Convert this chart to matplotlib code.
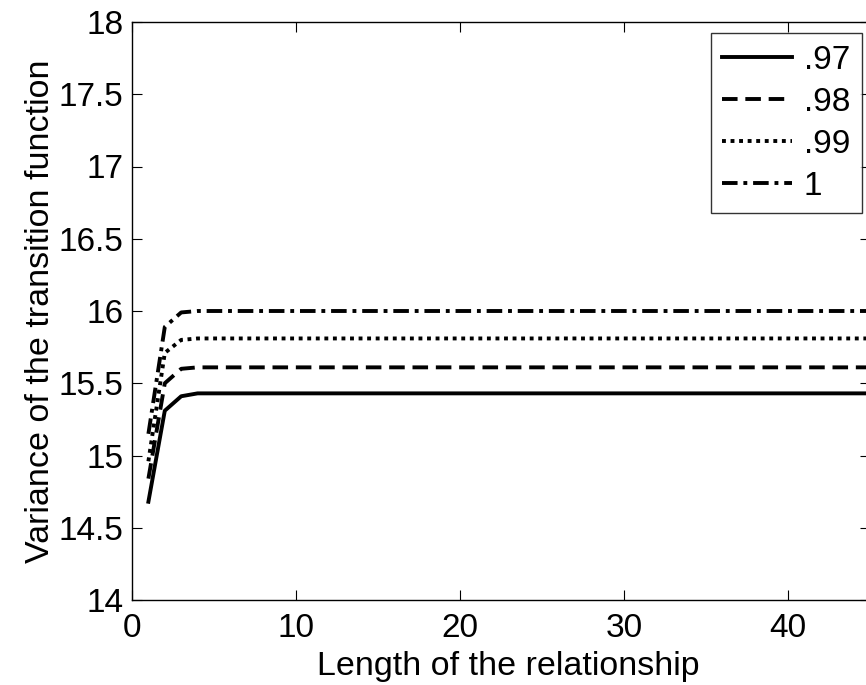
import matplotlib
matplotlib.use("Agg")
import matplotlib.pyplot as plt

plt.rcParams['font.family'] = ['Liberation Sans', 'DejaVu Sans']

x = [1, 2, 3, 4, 5, 45]
s97 = [14.68, 15.31, 15.41, 15.43, 15.43, 15.43]
s98 = [14.84, 15.50, 15.60, 15.61, 15.61, 15.61]
s99 = [14.96, 15.71, 15.80, 15.81, 15.81, 15.81]
s100 = [15.15, 15.89, 15.99, 16.00, 16.00, 16.00]
labels = ['.97', '.98', '.99', '1']

AX_L, AX_R, AX_T, AX_B = 132, 870, 22, 600
fig = plt.figure(figsize=(8.66, 6.85), dpi=100)
ax = fig.add_axes([AX_L/866, 1-AX_B/685, (AX_R-AX_L)/866, (AX_B-AX_T)/685])

lw = 2.8
ax.plot(x, s97, color='black', lw=lw, ls='-', label=labels[0])
ax.plot(x, s98, color='black', lw=lw, ls=(0, (4, 2)), label=labels[1])
ax.plot(x, s99, color='black', lw=lw, ls=(0, (1, 1.2)), label=labels[2])
ax.plot(x, s100, color='black', lw=lw, ls=(0, (4, 1.5, 1, 1.5)), label=labels[3])

ax.set_xlim(0, 45)
ax.set_ylim(14, 18)
ax.set_xticks([0, 10, 20, 30, 40])
ax.set_yticks([14, 14.5, 15, 15.5, 16, 16.5, 17, 17.5, 18])
ax.set_yticklabels(['14', '14.5', '15', '15.5', '16', '16.5', '17', '17.5', '18'])
ax.tick_params(direction='in', top=True, right=True, length=7, width=0.8,
               labelsize=24, pad=6)
ax.tick_params(axis='x', pad=9.5)
for sp in ax.spines.values():
    sp.set_linewidth(1.0)

ax.set_xlabel('Length of the relationship', fontsize=24.5)
ax.xaxis.set_label_coords((508-AX_L)/(AX_R-AX_L), -0.088)
ax.xaxis.label.set_va('top')
ax.set_ylabel('Variance of the transition function', fontsize=24.5, labelpad=2)

leg = ax.legend(loc='upper right',
                bbox_to_anchor=((862-AX_L)/(AX_R-AX_L), (AX_B-33)/(AX_B-AX_T)),
                fontsize=24, frameon=True, fancybox=False,
                edgecolor='black', handlelength=2.1, handletextpad=0.35,
                borderaxespad=0.0, labelspacing=0.33, borderpad=0.35)
leg.get_frame().set_linewidth(1.0)

fig.savefig('out.png', dpi=100, facecolor='white')
